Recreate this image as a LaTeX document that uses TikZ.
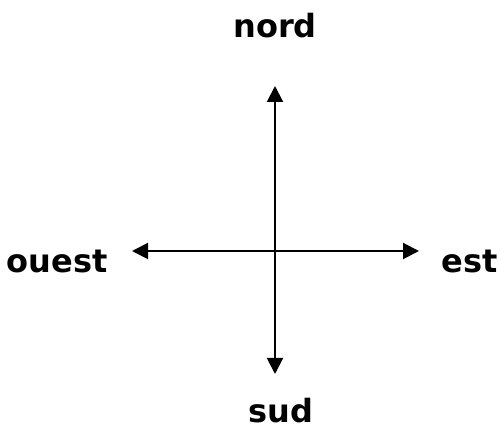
\documentclass[tikz,border=0pt]{standalone}
\usepackage{fontspec}
\setmainfont{DejaVu Sans}
\usetikzlibrary{arrows.meta}
\begin{document}
\begin{tikzpicture}[x=1pt,y=-1pt,
  axis/.style={line width=2pt,{Triangle[length=16pt,width=16pt]}-{Triangle[length=16pt,width=16pt]}},
  label/.style={font=\bfseries\fontsize{32}{34}\selectfont,anchor=base,inner sep=0pt}]
\useasboundingbox (0,0) rectangle (501,430);
\coordinate (n) at (275,86);
\coordinate (s) at (275,374);
\coordinate (w) at (132,251);
\coordinate (e) at (419,251);
\draw[axis] (s) -- (n);
\draw[axis] (w) -- (e);
\node[label] (nord) at (275,38) {nord};
\node[label] (sud) at (281,422) {sud};
\node[label] (ouest) at (57,273) {ouest};
\node[label] (est) at (470,273) {est};
\end{tikzpicture}
\end{document}
